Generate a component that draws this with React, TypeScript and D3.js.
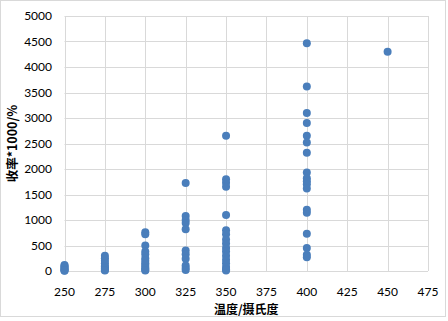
import React, { useEffect } from "react";
import * as d3 from "d3";

const temps = [250, 275, 300, 325, 350, 400, 450];
const yields250 = [120, 100, 80, 60, 40, 20, 10, 5];
const yields275 = [300, 250, 200, 150, 100, 80, 50, 20, 10];
const yields300 = [760, 720, 500, 380, 330, 250, 200, 150, 120, 80, 50, 20, 10];
const yields325 = [1725, 1080, 1000, 940, 820, 400, 330, 240, 110, 60, 20];
const yields350 = [2650, 1800, 1730, 1650, 1100, 800, 720, 620, 540, 450, 380, 300, 220, 150, 80, 30, 10];
const yields400 = [4464, 3620, 3100, 2900, 2650, 2520, 2320, 1930, 1820, 1760, 1700, 1620, 1200, 1140, 730, 450, 320, 270];
const yields450 = [4300];
const xTicks = [250, 275, 300, 325, 350, 375, 400, 425, 450, 475];
const yTicks = [0, 500, 1000, 1500, 2000, 2500, 3000, 3500, 4000, 4500, 5000];
const xTitle = "温度/摄氏度";
const yTitle = "收率*1000/%";

const groups = [yields250, yields275, yields300, yields325, yields350, yields400, yields450];

const W = 448;
const H = 321;
const left = 64.5;
const right = 428;
const top = 16;
const bottom = 271;

export default function App() {
  useEffect(() => {
    document.body.style.margin = "0";
  }, []);
  const x = d3.scaleLinear().domain([250, 475]).range([left, right]);
  const y = d3.scaleLinear().domain([0, 5000]).range([bottom, top]);
  const points: { t: number; v: number }[] = [];
  groups.forEach((g, i) => g.forEach((v) => points.push({ t: temps[i], v })));
  const font = "Lato, 'Open Sans', 'Noto Sans', sans-serif";
  const cjk = "'Noto Sans CJK SC', 'Noto Sans', sans-serif";
  return (
    <svg width={W} height={H} style={{ position: "absolute", left: 0, top: 0, background: "#fff" }}>
      <rect x={0.5} y={0.5} width={445} height={316} fill="#fff" stroke="#d9d9d9" strokeWidth={1} />
      {yTicks.map((t) => (
        <line key={"gy" + t} x1={left} x2={right} y1={Math.round(y(t)) + 0.5} y2={Math.round(y(t)) + 0.5} stroke="#d9d9d9" strokeWidth={1} />
      ))}
      {xTicks.map((t) => (
        <line key={"gx" + t} x1={Math.round(x(t)) + 0.5} x2={Math.round(x(t)) + 0.5} y1={top} y2={bottom} stroke="#d9d9d9" strokeWidth={1} />
      ))}
      {yTicks.map((t) => (
        <text key={"ty" + t} x={52} y={y(t)} dy="0.35em" textAnchor="end" fontFamily={font} fontSize={12} fill="#000">
          {t}
        </text>
      ))}
      {xTicks.map((t) => (
        <text key={"tx" + t} x={x(t)} y={296} textAnchor="middle" fontFamily={font} fontSize={12} fill="#000">
          {t}
        </text>
      ))}
      {points.map((p, i) => (
        <circle key={i} cx={x(p.t)} cy={y(p.v)} r={4} fill="#4a7ebb" />
      ))}
      <text x={(left + right) / 2} y={314} textAnchor="middle" fontFamily={cjk} fontWeight="bold" fontSize={12} fill="#000">
        {xTitle}
      </text>
      <text
        transform={`translate(17, ${(top + bottom) / 2}) rotate(-90)`}
        textAnchor="middle"
        fontFamily={cjk}
        fontWeight="bold"
        fontSize={12.5}
        fill="#000"
      >
        {yTitle}
      </text>
    </svg>
  );
}
